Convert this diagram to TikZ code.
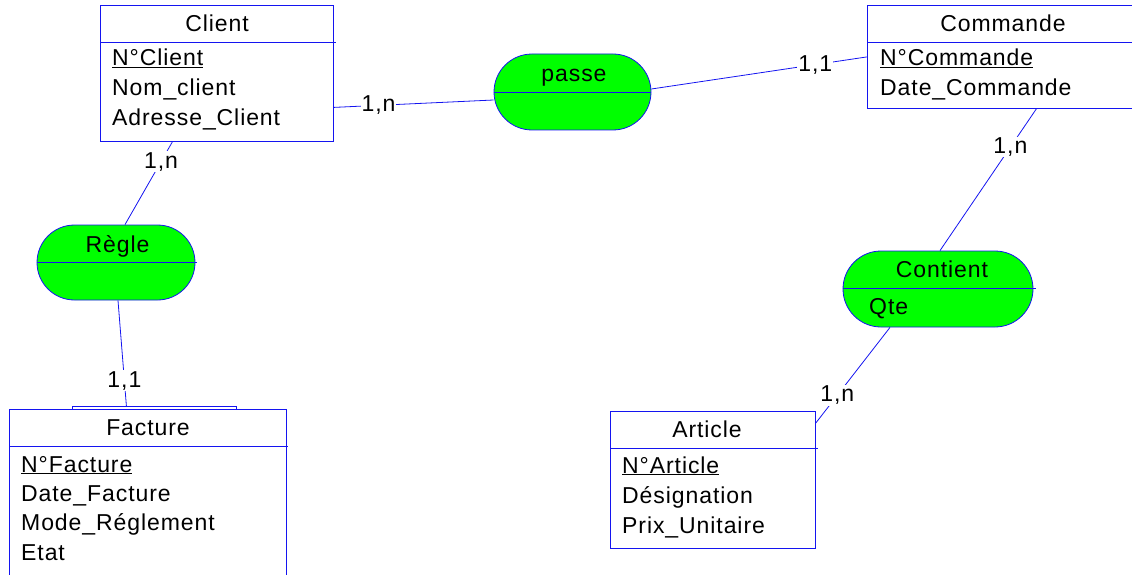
\documentclass[tikz,border=0pt]{standalone}
\usepackage{fontspec}
\setmainfont[LetterSpace=4]{Liberation Sans}
\usetikzlibrary{shapes.misc}
\definecolor{B}{RGB}{20,20,240}
\definecolor{G}{RGB}{0,255,0}
\newcommand{\drawblue}{\draw[B, line width=.8pt]}
\newcommand{\attr}[4]{\node[txt, anchor=base west] (#1) at (#2, #3) {#4};}
\tikzset{
  txt/.style={inner sep=0pt, text=black, font=\fontsize{23}{23}\selectfont},
  entity/.style={draw=B, line width=.8pt, fill=white, anchor=north west, inner sep=0pt},
  assoc/.style={draw=B, line width=.8pt, fill=G, rounded rectangle, inner sep=0pt},
  card/.style={txt, fill=white, inner sep=1pt}
}
\begin{document}
\begin{tikzpicture}[x=1pt, y=-1pt]
\useasboundingbox (0,0) rectangle (1132,575);
\node[entity, minimum width=233, minimum height=136] (client) at (100,5) {};
\node[entity, minimum width=272, minimum height=103] (commande) at (867,5) {};
\node[entity, minimum width=164, minimum height=3] (factab) at (72,406) {};
\node[entity, minimum width=277, minimum height=190] (facture) at (9,409) {};
\node[entity, minimum width=205, minimum height=137] (article) at (610,411) {};
\node[assoc, minimum width=157, minimum height=76] (passe) at (572.5,92) {};
\node[assoc, minimum width=158, minimum height=75] (regle) at (116,262.5) {};
\node[assoc, minimum width=190, minimum height=76] (contient) at (938,289) {};
\drawblue ([yshift=-37pt]client.north west) -- ++(236,0);
\drawblue ([yshift=-37pt]commande.north west) -- ++(280,0);
\drawblue ([yshift=-37pt]facture.north west) -- ++(279,0);
\drawblue ([yshift=-37pt]article.north west) -- ++(208,0);
\drawblue (passe.west) -- (passe.east);
\drawblue (regle.west) -- ([xshift=2pt]regle.east);
\drawblue ([yshift=1pt]contient.west) -- ([xshift=3pt, yshift=1pt]contient.east);
\node[txt, anchor=base] (clientT) at (217,32) {Client};
\attr{clientA}{112}{66}{\underline{N°Client}}\attr{clientB}{112}{96}{Nom\_client}\attr{clientC}{112}{126}{Adresse\_Client}
\node[txt, anchor=base] (commandeT) at (1003,32) {Commande};
\attr{commandeA}{880}{66}{\underline{N°Commande}}\attr{commandeB}{880}{96}{Date\_Commande}
\node[txt, anchor=base] (factureT) at (148,435) {Facture};
\attr{factureA}{21}{472}{\underline{N°Facture}}\attr{factureB}{21}{501}{Date\_Facture}\attr{factureC}{21}{530}{Mode\_Réglement}\attr{factureD}{21}{560}{Etat}
\node[txt, anchor=base] (articleT) at (707,437) {Article};
\attr{articleA}{622}{473}{\underline{N°Article}}\attr{articleB}{622}{503}{Désignation}\attr{articleC}{622}{533}{Prix\_Unitaire}
\node[txt, anchor=base] (passeT) at (574,82) {passe};
\node[txt, anchor=base] (regleT) at (117.5,252) {Règle};
\node[txt, anchor=base] (contientT) at (942,277) {Contient};
\attr{contientA}{869}{314}{Qte}
\drawblue ([yshift=-34pt]client.east) -- node[card, pos=.28] (c1) {1,n} ([yshift=-8pt]passe.west);
\drawblue ([yshift=3pt]passe.east) -- node[card, pos=.76] (c2) {1,1} (commande.west);
\drawblue ([xshift=-44.5pt]client.south) -- node[card, pos=.24] (c3) {1,n} ([xshift=9pt]regle.north);
\drawblue ([xshift=2pt]regle.south) -- node[card, pos=.76] (c4) {1,1} ([xshift=-28pt]factab.north);
\drawblue ([xshift=33pt]commande.south) -- node[card, pos=.27] (c5) {1,n} ([xshift=2pt]contient.north);
\drawblue ([xshift=-48pt]contient.south) -- node[card, pos=.71] (c6) {1,n} ([yshift=-12pt]article.north east);
\end{tikzpicture}
\end{document}
